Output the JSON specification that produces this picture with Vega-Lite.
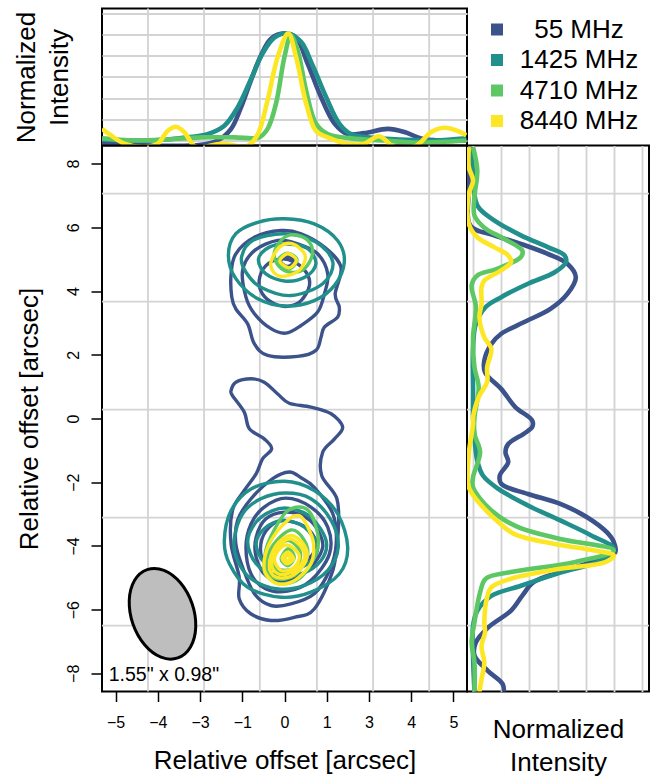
{
"$schema":"https://vega.github.io/schema/vega-lite/v6.json",
"background":"white",
"padding":{"left":12,"top":6.5,"right":5,"bottom":5},
"config":{
 "font":"Liberation Sans",
 "view":{"stroke":"black","strokeWidth":2},
 "axis":{"labelFont":"Liberation Sans","titleFont":"Liberation Sans","labelColor":"black","titleColor":"black","titleFontWeight":"normal","titleFontSize":26,"labelFontSize":16,"titleLineHeight":33,"gridColor":"#D3D3D3","gridWidth":1.8,"gridOpacity":1,"domain":false,"tickColor":"black","tickWidth":1.5},
 "legend":{"labelFont":"Liberation Sans"}
},
"datasets":{
 "gridx":[{"g":-4.04},{"g":-2.38},{"g":-0.73},{"g":0.96},{"g":2.62},{"g":4.28}],
 "gridy":[{"g":7.06},{"g":3.67},{"g":0.28},{"g":-3.11},{"g":-6.5}],
 "beam":[{"x":-3.61,"y":-6.13,"label":"1.55\" x 0.98\"","lx":-5.2,"ly":-8.04}],
 "top":[
{"band":"55 MHz","x":-5.4,"i":-0.02},{"band":"55 MHz","x":-4.45,"i":-0.04},{"band":"55 MHz","x":-3.46,"i":-0.05},{"band":"55 MHz","x":-2.47,"i":-0.04},{"band":"55 MHz","x":-1.98,"i":0},{"band":"55 MHz","x":-1.58,"i":0.11},{"band":"55 MHz","x":-1.29,"i":0.31},{"band":"55 MHz","x":-0.99,"i":0.57},{"band":"55 MHz","x":-0.7,"i":0.8},{"band":"55 MHz","x":-0.4,"i":0.96},{"band":"55 MHz","x":0,"i":1.01},{"band":"55 MHz","x":0.34,"i":0.97},{"band":"55 MHz","x":0.69,"i":0.72},{"band":"55 MHz","x":1.08,"i":0.41},{"band":"55 MHz","x":1.48,"i":0.16},{"band":"55 MHz","x":1.87,"i":0.06},{"band":"55 MHz","x":2.36,"i":0.07},{"band":"55 MHz","x":3.06,"i":0.11},{"band":"55 MHz","x":3.55,"i":0.08},{"band":"55 MHz","x":4.04,"i":0.02},{"band":"55 MHz","x":4.63,"i":0},{"band":"55 MHz","x":5.38,"i":0},
{"band":"1425 MHz","x":-5.4,"i":0.01},{"band":"1425 MHz","x":-3.95,"i":0},{"band":"1425 MHz","x":-2.87,"i":0.03},{"band":"1425 MHz","x":-2.28,"i":0.06},{"band":"1425 MHz","x":-1.78,"i":0.14},{"band":"1425 MHz","x":-1.39,"i":0.31},{"band":"1425 MHz","x":-0.99,"i":0.58},{"band":"1425 MHz","x":-0.65,"i":0.82},{"band":"1425 MHz","x":-0.3,"i":0.97},{"band":"1425 MHz","x":0.09,"i":1.01},{"band":"1425 MHz","x":0.49,"i":0.93},{"band":"1425 MHz","x":0.83,"i":0.71},{"band":"1425 MHz","x":1.23,"i":0.41},{"band":"1425 MHz","x":1.62,"i":0.16},{"band":"1425 MHz","x":1.97,"i":0.06},{"band":"1425 MHz","x":2.46,"i":0.03},{"band":"1425 MHz","x":3.45,"i":0.01},{"band":"1425 MHz","x":4.44,"i":0},{"band":"1425 MHz","x":5.38,"i":0.02},
{"band":"4710 MHz","x":-5.4,"i":0.02},{"band":"4710 MHz","x":-4.45,"i":0},{"band":"4710 MHz","x":-3.46,"i":0.01},{"band":"4710 MHz","x":-2.47,"i":0.03},{"band":"4710 MHz","x":-1.48,"i":0.03},{"band":"4710 MHz","x":-0.75,"i":0.03},{"band":"4710 MHz","x":-0.5,"i":0.11},{"band":"4710 MHz","x":-0.25,"i":0.35},{"band":"4710 MHz","x":0,"i":0.79},{"band":"4710 MHz","x":0.19,"i":0.99},{"band":"4710 MHz","x":0.39,"i":0.85},{"band":"4710 MHz","x":0.64,"i":0.47},{"band":"4710 MHz","x":0.93,"i":0.16},{"band":"4710 MHz","x":1.28,"i":0.06},{"band":"4710 MHz","x":1.97,"i":0.02},{"band":"4710 MHz","x":2.95,"i":0},{"band":"4710 MHz","x":3.94,"i":-0.02},{"band":"4710 MHz","x":5.38,"i":0},
{"band":"8440 MHz","x":-5.4,"i":0.11},{"band":"8440 MHz","x":-5.14,"i":0.05},{"band":"8440 MHz","x":-4.74,"i":-0.03},{"band":"8440 MHz","x":-4.15,"i":-0.06},{"band":"8440 MHz","x":-3.75,"i":-0.03},{"band":"8440 MHz","x":-3.46,"i":0.09},{"band":"8440 MHz","x":-3.21,"i":0.13},{"band":"8440 MHz","x":-2.97,"i":0.08},{"band":"8440 MHz","x":-2.62,"i":-0.06},{"band":"8440 MHz","x":-1.88,"i":-0.03},{"band":"8440 MHz","x":-1.09,"i":-0.05},{"band":"8440 MHz","x":-0.79,"i":0.06},{"band":"8440 MHz","x":-0.5,"i":0.38},{"band":"8440 MHz","x":-0.2,"i":0.79},{"band":"8440 MHz","x":0.11,"i":1.01},{"band":"8440 MHz","x":0.34,"i":0.79},{"band":"8440 MHz","x":0.64,"i":0.35},{"band":"8440 MHz","x":0.93,"i":0.09},{"band":"8440 MHz","x":1.28,"i":0.03},{"band":"8440 MHz","x":1.87,"i":-0.03},{"band":"8440 MHz","x":2.36,"i":-0.03},{"band":"8440 MHz","x":2.8,"i":0.04},{"band":"8440 MHz","x":3.25,"i":-0.06},{"band":"8440 MHz","x":3.89,"i":-0.05},{"band":"8440 MHz","x":4.34,"i":0.08},{"band":"8440 MHz","x":4.73,"i":0.12},{"band":"8440 MHz","x":5.13,"i":0.09},{"band":"8440 MHz","x":5.38,"i":0.05}
 ],
 "side":[
{"band":"55 MHz","i":-0.02,"y":8.52},{"band":"55 MHz","i":-0.03,"y":7.16},{"band":"55 MHz","i":-0.02,"y":6.06},{"band":"55 MHz","i":0.15,"y":5.75},{"band":"55 MHz","i":0.34,"y":5.48},{"band":"55 MHz","i":0.53,"y":5.17},{"band":"55 MHz","i":0.67,"y":4.86},{"band":"55 MHz","i":0.73,"y":4.44},{"band":"55 MHz","i":0.67,"y":3.91},{"band":"55 MHz","i":0.55,"y":3.44},{"band":"55 MHz","i":0.36,"y":3.02},{"band":"55 MHz","i":0.2,"y":2.66},{"band":"55 MHz","i":0.13,"y":2.34},{"band":"55 MHz","i":0.08,"y":1.82},{"band":"55 MHz","i":0.085,"y":1.45},{"band":"55 MHz","i":0.2,"y":0.93},{"band":"55 MHz","i":0.3,"y":0.36},{"band":"55 MHz","i":0.42,"y":-0.06},{"band":"55 MHz","i":0.42,"y":-0.27},{"band":"55 MHz","i":0.36,"y":-0.48},{"band":"55 MHz","i":0.25,"y":-0.8},{"band":"55 MHz","i":0.23,"y":-1.06},{"band":"55 MHz","i":0.25,"y":-1.37},{"band":"55 MHz","i":0.19,"y":-1.79},{"band":"55 MHz","i":0.2,"y":-2.05},{"band":"55 MHz","i":0.39,"y":-2.37},{"band":"55 MHz","i":0.62,"y":-2.68},{"band":"55 MHz","i":0.81,"y":-3.1},{"band":"55 MHz","i":0.95,"y":-3.57},{"band":"55 MHz","i":1,"y":-3.88},{"band":"55 MHz","i":1.01,"y":-4.2},{"band":"55 MHz","i":0.91,"y":-4.41},{"band":"55 MHz","i":0.62,"y":-4.82},{"band":"55 MHz","i":0.43,"y":-5.14},{"band":"55 MHz","i":0.35,"y":-5.56},{"band":"55 MHz","i":0.27,"y":-6.03},{"band":"55 MHz","i":0.11,"y":-6.55},{"band":"55 MHz","i":0.02,"y":-7.03},{"band":"55 MHz","i":0.01,"y":-7.44},{"band":"55 MHz","i":0.105,"y":-7.92},{"band":"55 MHz","i":0.21,"y":-8.33},{"band":"55 MHz","i":0.22,"y":-8.59},
{"band":"1425 MHz","i":-0.01,"y":8.52},{"band":"1425 MHz","i":0,"y":7.68},{"band":"1425 MHz","i":0.03,"y":6.69},{"band":"1425 MHz","i":0.15,"y":6.22},{"band":"1425 MHz","i":0.34,"y":5.75},{"band":"1425 MHz","i":0.53,"y":5.38},{"band":"1425 MHz","i":0.65,"y":5.12},{"band":"1425 MHz","i":0.66,"y":4.91},{"band":"1425 MHz","i":0.58,"y":4.59},{"band":"1425 MHz","i":0.39,"y":4.23},{"band":"1425 MHz","i":0.2,"y":3.81},{"band":"1425 MHz","i":0.09,"y":3.5},{"band":"1425 MHz","i":0.02,"y":2.97},{"band":"1425 MHz","i":0,"y":2.24},{"band":"1425 MHz","i":0,"y":0.88},{"band":"1425 MHz","i":0,"y":0.04},{"band":"1425 MHz","i":0.01,"y":-0.59},{"band":"1425 MHz","i":0.03,"y":-1.32},{"band":"1425 MHz","i":0.07,"y":-1.79},{"band":"1425 MHz","i":0.18,"y":-2.21},{"band":"1425 MHz","i":0.39,"y":-2.73},{"band":"1425 MHz","i":0.62,"y":-3.2},{"band":"1425 MHz","i":0.84,"y":-3.67},{"band":"1425 MHz","i":1,"y":-4.09},{"band":"1425 MHz","i":0.93,"y":-4.42},{"band":"1425 MHz","i":0.62,"y":-4.84},{"band":"1425 MHz","i":0.34,"y":-5.25},{"band":"1425 MHz","i":0.13,"y":-5.57},{"band":"1425 MHz","i":0.03,"y":-6.04},{"band":"1425 MHz","i":0,"y":-6.51},{"band":"1425 MHz","i":0,"y":-7.45},{"band":"1425 MHz","i":0.01,"y":-8.59},
{"band":"4710 MHz","i":0,"y":8.52},{"band":"4710 MHz","i":0.03,"y":7.79},{"band":"4710 MHz","i":0.01,"y":6.95},{"band":"4710 MHz","i":0.01,"y":6.37},{"band":"4710 MHz","i":0.08,"y":5.99},{"band":"4710 MHz","i":0.22,"y":5.64},{"band":"4710 MHz","i":0.35,"y":5.27},{"band":"4710 MHz","i":0.34,"y":5.07},{"band":"4710 MHz","i":0.17,"y":4.7},{"band":"4710 MHz","i":0.03,"y":4.49},{"band":"4710 MHz","i":-0.01,"y":4.18},{"band":"4710 MHz","i":0.02,"y":3.5},{"band":"4710 MHz","i":0,"y":2.55},{"band":"4710 MHz","i":0.01,"y":1.61},{"band":"4710 MHz","i":0.04,"y":0.98},{"band":"4710 MHz","i":0.01,"y":0.04},{"band":"4710 MHz","i":0.01,"y":-0.48},{"band":"4710 MHz","i":0.05,"y":-1.06},{"band":"4710 MHz","i":0,"y":-1.84},{"band":"4710 MHz","i":0,"y":-2.16},{"band":"4710 MHz","i":0.13,"y":-2.89},{"band":"4710 MHz","i":0.32,"y":-3.41},{"band":"4710 MHz","i":0.62,"y":-3.78},{"band":"4710 MHz","i":1,"y":-4.14},{"band":"4710 MHz","i":0.72,"y":-4.51},{"band":"4710 MHz","i":0.27,"y":-4.82},{"band":"4710 MHz","i":0.09,"y":-5.03},{"band":"4710 MHz","i":0.05,"y":-5.46},{"band":"4710 MHz","i":0.01,"y":-6.4},{"band":"4710 MHz","i":-0.01,"y":-7.03},{"band":"4710 MHz","i":0.01,"y":-7.66},{"band":"4710 MHz","i":0.01,"y":-8.59},
{"band":"8440 MHz","i":-0.03,"y":8.52},{"band":"8440 MHz","i":-0.03,"y":7.89},{"band":"8440 MHz","i":0,"y":7.47},{"band":"8440 MHz","i":-0.03,"y":7.05},{"band":"8440 MHz","i":-0.03,"y":6.11},{"band":"8440 MHz","i":0.03,"y":5.69},{"band":"8440 MHz","i":0.15,"y":5.38},{"band":"8440 MHz","i":0.25,"y":5.12},{"band":"8440 MHz","i":0.27,"y":4.91},{"band":"8440 MHz","i":0.2,"y":4.65},{"band":"8440 MHz","i":0.08,"y":4.33},{"band":"8440 MHz","i":0.06,"y":4.12},{"band":"8440 MHz","i":0.06,"y":3.6},{"band":"8440 MHz","i":0.045,"y":3.18},{"band":"8440 MHz","i":0.08,"y":2.55},{"band":"8440 MHz","i":0.13,"y":2.19},{"band":"8440 MHz","i":0.1,"y":1.61},{"band":"8440 MHz","i":0.1,"y":1.14},{"band":"8440 MHz","i":0.045,"y":0.72},{"band":"8440 MHz","i":0,"y":0.04},{"band":"8440 MHz","i":0,"y":-0.17},{"band":"8440 MHz","i":-0.03,"y":-1.11},{"band":"8440 MHz","i":-0.03,"y":-2.16},{"band":"8440 MHz","i":0.06,"y":-2.73},{"band":"8440 MHz","i":0.18,"y":-3.25},{"band":"8440 MHz","i":0.29,"y":-3.62},{"band":"8440 MHz","i":0.58,"y":-3.94},{"band":"8440 MHz","i":0.86,"y":-4.14},{"band":"8440 MHz","i":1,"y":-4.3},{"band":"8440 MHz","i":0.94,"y":-4.51},{"band":"8440 MHz","i":0.62,"y":-4.72},{"band":"8440 MHz","i":0.27,"y":-5.03},{"band":"8440 MHz","i":0.13,"y":-5.3},{"band":"8440 MHz","i":0.1,"y":-5.61},{"band":"8440 MHz","i":0.08,"y":-6.4},{"band":"8440 MHz","i":0.085,"y":-6.72},{"band":"8440 MHz","i":0.06,"y":-7.14},{"band":"8440 MHz","i":0.08,"y":-7.66},{"band":"8440 MHz","i":0.06,"y":-8.18},{"band":"8440 MHz","i":0.045,"y":-8.59}
 ],
 "contours":[
{"band":"55 MHz","ring":"B1","x":-1.58,"y":4.54},{"band":"55 MHz","ring":"B1","x":-1.56,"y":3.81},{"band":"55 MHz","ring":"B1","x":-1.44,"y":3.44},{"band":"55 MHz","ring":"B1","x":-1.09,"y":2.97},{"band":"55 MHz","ring":"B1","x":-0.89,"y":2.34},{"band":"55 MHz","ring":"B1","x":-0.5,"y":1.98},{"band":"55 MHz","ring":"B1","x":0.39,"y":1.95},{"band":"55 MHz","ring":"B1","x":0.93,"y":2.14},{"band":"55 MHz","ring":"B1","x":1.08,"y":2.55},{"band":"55 MHz","ring":"B1","x":1.18,"y":2.87},{"band":"55 MHz","ring":"B1","x":1.57,"y":3.18},{"band":"55 MHz","ring":"B1","x":1.62,"y":3.5},{"band":"55 MHz","ring":"B1","x":1.5,"y":3.91},{"band":"55 MHz","ring":"B1","x":1.67,"y":4.75},{"band":"55 MHz","ring":"B1","x":1.18,"y":5.38},{"band":"55 MHz","ring":"B1","x":0.49,"y":5.8},{"band":"55 MHz","ring":"B1","x":-0.1,"y":5.9},{"band":"55 MHz","ring":"B1","x":-0.89,"y":5.69},{"band":"55 MHz","ring":"B1","x":-1.44,"y":5.17},
{"band":"55 MHz","ring":"B2","x":-1.24,"y":4.65},{"band":"55 MHz","ring":"B2","x":-1.14,"y":3.81},{"band":"55 MHz","ring":"B2","x":-0.89,"y":3.29},{"band":"55 MHz","ring":"B2","x":-0.4,"y":2.82},{"band":"55 MHz","ring":"B2","x":0.04,"y":2.68},{"band":"55 MHz","ring":"B2","x":0.49,"y":2.92},{"band":"55 MHz","ring":"B2","x":0.98,"y":3.34},{"band":"55 MHz","ring":"B2","x":1.18,"y":3.91},{"band":"55 MHz","ring":"B2","x":1.28,"y":4.54},{"band":"55 MHz","ring":"B2","x":0.98,"y":5.17},{"band":"55 MHz","ring":"B2","x":0.39,"y":5.48},{"band":"55 MHz","ring":"B2","x":-0.2,"y":5.59},{"band":"55 MHz","ring":"B2","x":-0.89,"y":5.27},
{"band":"55 MHz","ring":"B3","x":-0.75,"y":4.33},{"band":"55 MHz","ring":"B3","x":-0.65,"y":3.91},{"band":"55 MHz","ring":"B3","x":-0.3,"y":3.6},{"band":"55 MHz","ring":"B3","x":0.09,"y":3.52},{"band":"55 MHz","ring":"B3","x":0.49,"y":3.7},{"band":"55 MHz","ring":"B3","x":0.74,"y":4.18},{"band":"55 MHz","ring":"B3","x":0.64,"y":4.59},{"band":"55 MHz","ring":"B3","x":0.29,"y":4.91},{"band":"55 MHz","ring":"B3","x":-0.1,"y":5.01},{"band":"55 MHz","ring":"B3","x":-0.55,"y":4.8},
{"band":"55 MHz","ring":"B4","x":-0.12,"y":4.94},{"band":"55 MHz","ring":"B4","x":0.09,"y":5.09},{"band":"55 MHz","ring":"B4","x":0.29,"y":4.94},{"band":"55 MHz","ring":"B4","x":0.09,"y":4.77},
{"band":"55 MHz","ring":"B5","x":-1.58,"y":0.88},{"band":"55 MHz","ring":"B5","x":-1.44,"y":1.14},{"band":"55 MHz","ring":"B5","x":-0.99,"y":1.25},{"band":"55 MHz","ring":"B5","x":-0.6,"y":1.14},{"band":"55 MHz","ring":"B5","x":-0.2,"y":0.77},{"band":"55 MHz","ring":"B5","x":0.14,"y":0.48},{"band":"55 MHz","ring":"B5","x":0.78,"y":0.36},{"band":"55 MHz","ring":"B5","x":1.38,"y":0.15},{"band":"55 MHz","ring":"B5","x":1.72,"y":-0.27},{"band":"55 MHz","ring":"B5","x":1.48,"y":-0.64},{"band":"55 MHz","ring":"B5","x":1.13,"y":-1.06},{"band":"55 MHz","ring":"B5","x":1.1,"y":-1.79},{"band":"55 MHz","ring":"B5","x":1.55,"y":-2.52},{"band":"55 MHz","ring":"B5","x":1.59,"y":-3.52},{"band":"55 MHz","ring":"B5","x":1.43,"y":-4.77},{"band":"55 MHz","ring":"B5","x":0.88,"y":-5.98},{"band":"55 MHz","ring":"B5","x":0.29,"y":-6.24},{"band":"55 MHz","ring":"B5","x":-0.4,"y":-6.34},{"band":"55 MHz","ring":"B5","x":-1,"y":-6.13},{"band":"55 MHz","ring":"B5","x":-1.34,"y":-5.66},{"band":"55 MHz","ring":"B5","x":-1.34,"y":-4.98},{"band":"55 MHz","ring":"B5","x":-1.58,"y":-3.94},{"band":"55 MHz","ring":"B5","x":-1.54,"y":-2.89},{"band":"55 MHz","ring":"B5","x":-1.19,"y":-2.26},{"band":"55 MHz","ring":"B5","x":-0.84,"y":-1.74},{"band":"55 MHz","ring":"B5","x":-0.65,"y":-1.27},{"band":"55 MHz","ring":"B5","x":-0.38,"y":-0.95},{"band":"55 MHz","ring":"B5","x":-0.6,"y":-0.64},{"band":"55 MHz","ring":"B5","x":-1.04,"y":-0.32},{"band":"55 MHz","ring":"B5","x":-1.19,"y":0.2},{"band":"55 MHz","ring":"B5","x":-1.54,"y":0.72},
{"band":"55 MHz","ring":"B6","x":0.14,"y":-1.68},{"band":"55 MHz","ring":"B6","x":-0.35,"y":-1.89},{"band":"55 MHz","ring":"B6","x":-0.99,"y":-2.52},{"band":"55 MHz","ring":"B6","x":-1.39,"y":-3.2},{"band":"55 MHz","ring":"B6","x":-1.44,"y":-3.94},{"band":"55 MHz","ring":"B6","x":-1.24,"y":-4.67},{"band":"55 MHz","ring":"B6","x":-0.89,"y":-5.5},{"band":"55 MHz","ring":"B6","x":-0.4,"y":-5.87},{"band":"55 MHz","ring":"B6","x":0.19,"y":-5.82},{"band":"55 MHz","ring":"B6","x":0.88,"y":-5.5},{"band":"55 MHz","ring":"B6","x":1.33,"y":-4.77},{"band":"55 MHz","ring":"B6","x":1.53,"y":-3.94},{"band":"55 MHz","ring":"B6","x":1.43,"y":-2.99},{"band":"55 MHz","ring":"B6","x":0.88,"y":-2.16},{"band":"55 MHz","ring":"B6","x":0.49,"y":-1.86},
{"band":"55 MHz","ring":"B7","x":0.04,"y":-2.5},{"band":"55 MHz","ring":"B7","x":-0.6,"y":-2.78},{"band":"55 MHz","ring":"B7","x":-0.99,"y":-3.31},{"band":"55 MHz","ring":"B7","x":-1.14,"y":-4.04},{"band":"55 MHz","ring":"B7","x":-0.99,"y":-4.88},{"band":"55 MHz","ring":"B7","x":-0.55,"y":-5.35},{"band":"55 MHz","ring":"B7","x":0.09,"y":-5.42},{"band":"55 MHz","ring":"B7","x":0.78,"y":-5.09},{"band":"55 MHz","ring":"B7","x":1.33,"y":-4.25},{"band":"55 MHz","ring":"B7","x":1.28,"y":-3.41},{"band":"55 MHz","ring":"B7","x":0.78,"y":-2.78},
{"band":"55 MHz","ring":"B8","x":0,"y":-2.94},{"band":"55 MHz","ring":"B8","x":-0.55,"y":-3.15},{"band":"55 MHz","ring":"B8","x":-0.84,"y":-3.73},{"band":"55 MHz","ring":"B8","x":-0.84,"y":-4.35},{"band":"55 MHz","ring":"B8","x":-0.55,"y":-4.93},{"band":"55 MHz","ring":"B8","x":0,"y":-5.09},{"band":"55 MHz","ring":"B8","x":0.69,"y":-4.77},{"band":"55 MHz","ring":"B8","x":1.13,"y":-4.04},{"band":"55 MHz","ring":"B8","x":0.93,"y":-3.41},{"band":"55 MHz","ring":"B8","x":0.54,"y":-3.05},
{"band":"55 MHz","ring":"B9","x":0,"y":-3.2},{"band":"55 MHz","ring":"B9","x":-0.45,"y":-3.41},{"band":"55 MHz","ring":"B9","x":-0.7,"y":-3.94},{"band":"55 MHz","ring":"B9","x":-0.6,"y":-4.51},{"band":"55 MHz","ring":"B9","x":-0.1,"y":-4.82},{"band":"55 MHz","ring":"B9","x":0.49,"y":-4.62},{"band":"55 MHz","ring":"B9","x":0.93,"y":-4.04},{"band":"55 MHz","ring":"B9","x":0.69,"y":-3.46},
{"band":"1425 MHz","ring":"T1","x":-1.66,"y":5.12},{"band":"1425 MHz","ring":"T1","x":-1.44,"y":5.8},{"band":"1425 MHz","ring":"T1","x":-0.79,"y":6.16},{"band":"1425 MHz","ring":"T1","x":0,"y":6.27},{"band":"1425 MHz","ring":"T1","x":0.88,"y":6.11},{"band":"1425 MHz","ring":"T1","x":1.57,"y":5.59},{"band":"1425 MHz","ring":"T1","x":1.77,"y":4.91},{"band":"1425 MHz","ring":"T1","x":1.48,"y":4.18},{"band":"1425 MHz","ring":"T1","x":0.88,"y":3.7},{"band":"1425 MHz","ring":"T1","x":0.04,"y":3.53},{"band":"1425 MHz","ring":"T1","x":-0.79,"y":3.76},{"band":"1425 MHz","ring":"T1","x":-1.44,"y":4.39},
{"band":"1425 MHz","ring":"T2","x":-1.27,"y":5.07},{"band":"1425 MHz","ring":"T2","x":-0.94,"y":5.59},{"band":"1425 MHz","ring":"T2","x":0,"y":5.8},{"band":"1425 MHz","ring":"T2","x":0.93,"y":5.54},{"band":"1425 MHz","ring":"T2","x":1.43,"y":4.91},{"band":"1425 MHz","ring":"T2","x":1.13,"y":4.23},{"band":"1425 MHz","ring":"T2","x":0.19,"y":3.86},{"band":"1425 MHz","ring":"T2","x":-0.7,"y":4.12},{"band":"1425 MHz","ring":"T2","x":-1.14,"y":4.59},
{"band":"1425 MHz","ring":"T3","x":-0.77,"y":5.01},{"band":"1425 MHz","ring":"T3","x":-0.45,"y":5.38},{"band":"1425 MHz","ring":"T3","x":0.09,"y":5.48},{"band":"1425 MHz","ring":"T3","x":0.69,"y":5.33},{"band":"1425 MHz","ring":"T3","x":0.93,"y":4.86},{"band":"1425 MHz","ring":"T3","x":0.64,"y":4.46},{"band":"1425 MHz","ring":"T3","x":0.04,"y":4.31},{"band":"1425 MHz","ring":"T3","x":-0.55,"y":4.54},
{"band":"1425 MHz","ring":"T4","x":-1.78,"y":-3.83},{"band":"1425 MHz","ring":"T4","x":-1.58,"y":-2.89},{"band":"1425 MHz","ring":"T4","x":-0.99,"y":-2.21},{"band":"1425 MHz","ring":"T4","x":0,"y":-1.97},{"band":"1425 MHz","ring":"T4","x":0.88,"y":-2.26},{"band":"1425 MHz","ring":"T4","x":1.57,"y":-2.99},{"band":"1425 MHz","ring":"T4","x":1.87,"y":-4.04},{"band":"1425 MHz","ring":"T4","x":1.62,"y":-4.88},{"band":"1425 MHz","ring":"T4","x":0.78,"y":-5.45},{"band":"1425 MHz","ring":"T4","x":-0.1,"y":-5.61},{"band":"1425 MHz","ring":"T4","x":-1.09,"y":-5.3},{"band":"1425 MHz","ring":"T4","x":-1.63,"y":-4.56},
{"band":"1425 MHz","ring":"T5","x":-1.49,"y":-3.83},{"band":"1425 MHz","ring":"T5","x":-1.24,"y":-2.99},{"band":"1425 MHz","ring":"T5","x":-0.7,"y":-2.52},{"band":"1425 MHz","ring":"T5","x":0.04,"y":-2.34},{"band":"1425 MHz","ring":"T5","x":0.78,"y":-2.52},{"band":"1425 MHz","ring":"T5","x":1.38,"y":-3.2},{"band":"1425 MHz","ring":"T5","x":1.59,"y":-4.04},{"band":"1425 MHz","ring":"T5","x":1.28,"y":-4.77},{"band":"1425 MHz","ring":"T5","x":0.59,"y":-5.24},{"band":"1425 MHz","ring":"T5","x":-0.2,"y":-5.35},{"band":"1425 MHz","ring":"T5","x":-0.99,"y":-5.03},{"band":"1425 MHz","ring":"T5","x":-1.39,"y":-4.46},
{"band":"1425 MHz","ring":"T6","x":-1.09,"y":-3.88},{"band":"1425 MHz","ring":"T6","x":-0.84,"y":-3.25},{"band":"1425 MHz","ring":"T6","x":-0.35,"y":-2.89},{"band":"1425 MHz","ring":"T6","x":0.14,"y":-2.82},{"band":"1425 MHz","ring":"T6","x":0.78,"y":-3.1},{"band":"1425 MHz","ring":"T6","x":1.23,"y":-3.83},{"band":"1425 MHz","ring":"T6","x":1.08,"y":-4.46},{"band":"1425 MHz","ring":"T6","x":0.49,"y":-4.88},{"band":"1425 MHz","ring":"T6","x":-0.3,"y":-4.9},{"band":"1425 MHz","ring":"T6","x":-0.84,"y":-4.56},
{"band":"1425 MHz","ring":"T7","x":-0.84,"y":-3.94},{"band":"1425 MHz","ring":"T7","x":-0.6,"y":-3.46},{"band":"1425 MHz","ring":"T7","x":-0.05,"y":-3.2},{"band":"1425 MHz","ring":"T7","x":0.59,"y":-3.41},{"band":"1425 MHz","ring":"T7","x":0.98,"y":-4.04},{"band":"1425 MHz","ring":"T7","x":0.69,"y":-4.56},{"band":"1425 MHz","ring":"T7","x":0,"y":-4.77},{"band":"1425 MHz","ring":"T7","x":-0.6,"y":-4.51},
{"band":"4710 MHz","ring":"G1","x":-0.3,"y":5.22},{"band":"4710 MHz","ring":"G1","x":-0.05,"y":5.64},{"band":"4710 MHz","ring":"G1","x":0.29,"y":5.77},{"band":"4710 MHz","ring":"G1","x":0.69,"y":5.59},{"band":"4710 MHz","ring":"G1","x":0.83,"y":5.17},{"band":"4710 MHz","ring":"G1","x":0.59,"y":4.7},{"band":"4710 MHz","ring":"G1","x":0.19,"y":4.59},{"band":"4710 MHz","ring":"G1","x":-0.18,"y":4.8},
{"band":"4710 MHz","ring":"G2","x":-0.18,"y":4.96},{"band":"4710 MHz","ring":"G2","x":0.09,"y":5.19},{"band":"4710 MHz","ring":"G2","x":0.37,"y":4.98},{"band":"4710 MHz","ring":"G2","x":0.14,"y":4.7},
{"band":"4710 MHz","ring":"G3","x":0.44,"y":-2.78},{"band":"4710 MHz","ring":"G3","x":0.78,"y":-2.99},{"band":"4710 MHz","ring":"G3","x":1,"y":-3.73},{"band":"4710 MHz","ring":"G3","x":0.93,"y":-4.25},{"band":"4710 MHz","ring":"G3","x":0.49,"y":-4.98},{"band":"4710 MHz","ring":"G3","x":-0.1,"y":-5.19},{"band":"4710 MHz","ring":"G3","x":-0.5,"y":-4.98},{"band":"4710 MHz","ring":"G3","x":-0.6,"y":-4.67},{"band":"4710 MHz","ring":"G3","x":-0.5,"y":-3.94},{"band":"4710 MHz","ring":"G3","x":0,"y":-2.99},
{"band":"4710 MHz","ring":"G4","x":0.19,"y":-3.5},{"band":"4710 MHz","ring":"G4","x":0.59,"y":-3.83},{"band":"4710 MHz","ring":"G4","x":0.67,"y":-4.35},{"band":"4710 MHz","ring":"G4","x":0.29,"y":-4.93},{"band":"4710 MHz","ring":"G4","x":-0.25,"y":-5.03},{"band":"4710 MHz","ring":"G4","x":-0.55,"y":-4.67},{"band":"4710 MHz","ring":"G4","x":-0.35,"y":-3.99},
{"band":"4710 MHz","ring":"G5","x":0.14,"y":-3.83},{"band":"4710 MHz","ring":"G5","x":0.47,"y":-4.2},{"band":"4710 MHz","ring":"G5","x":0.34,"y":-4.67},{"band":"4710 MHz","ring":"G5","x":-0.1,"y":-4.82},{"band":"4710 MHz","ring":"G5","x":-0.35,"y":-4.46},{"band":"4710 MHz","ring":"G5","x":-0.2,"y":-4.04},
{"band":"4710 MHz","ring":"G6","x":0.11,"y":-4.09},{"band":"4710 MHz","ring":"G6","x":0.29,"y":-4.35},{"band":"4710 MHz","ring":"G6","x":0.11,"y":-4.62},{"band":"4710 MHz","ring":"G6","x":-0.1,"y":-4.41},
{"band":"8440 MHz","ring":"Y1","x":-0.4,"y":4.91},{"band":"8440 MHz","ring":"Y1","x":-0.15,"y":5.38},{"band":"8440 MHz","ring":"Y1","x":0.24,"y":5.48},{"band":"8440 MHz","ring":"Y1","x":0.61,"y":5.12},{"band":"8440 MHz","ring":"Y1","x":0.44,"y":4.65},{"band":"8440 MHz","ring":"Y1","x":-0.05,"y":4.46},{"band":"8440 MHz","ring":"Y1","x":-0.32,"y":4.59},
{"band":"8440 MHz","ring":"Y2","x":-0.14,"y":4.94},{"band":"8440 MHz","ring":"Y2","x":0.09,"y":5.17},{"band":"8440 MHz","ring":"Y2","x":0.35,"y":4.98},{"band":"8440 MHz","ring":"Y2","x":0.14,"y":4.73},
{"band":"8440 MHz","ring":"Y3","x":0.44,"y":-3.05},{"band":"8440 MHz","ring":"Y3","x":0.69,"y":-3.41},{"band":"8440 MHz","ring":"Y3","x":0.86,"y":-3.94},{"band":"8440 MHz","ring":"Y3","x":0.78,"y":-4.56},{"band":"8440 MHz","ring":"Y3","x":0.29,"y":-5.09},{"band":"8440 MHz","ring":"Y3","x":-0.2,"y":-5.19},{"band":"8440 MHz","ring":"Y3","x":-0.55,"y":-4.88},{"band":"8440 MHz","ring":"Y3","x":-0.6,"y":-4.46},{"band":"8440 MHz","ring":"Y3","x":-0.4,"y":-3.83},{"band":"8440 MHz","ring":"Y3","x":0.09,"y":-3.2},
{"band":"8440 MHz","ring":"Y4","x":0.19,"y":-3.67},{"band":"8440 MHz","ring":"Y4","x":0.59,"y":-3.99},{"band":"8440 MHz","ring":"Y4","x":0.64,"y":-4.46},{"band":"8440 MHz","ring":"Y4","x":0.24,"y":-4.93},{"band":"8440 MHz","ring":"Y4","x":-0.25,"y":-4.98},{"band":"8440 MHz","ring":"Y4","x":-0.45,"y":-4.62},{"band":"8440 MHz","ring":"Y4","x":-0.25,"y":-3.99},
{"band":"8440 MHz","ring":"Y8","x":0.17,"y":-3.78},{"band":"8440 MHz","ring":"Y8","x":0.54,"y":-4.09},{"band":"8440 MHz","ring":"Y8","x":0.57,"y":-4.46},{"band":"8440 MHz","ring":"Y8","x":0.21,"y":-4.82},{"band":"8440 MHz","ring":"Y8","x":-0.18,"y":-4.88},{"band":"8440 MHz","ring":"Y8","x":-0.38,"y":-4.57},{"band":"8440 MHz","ring":"Y8","x":-0.18,"y":-4.04},
{"band":"8440 MHz","ring":"Y5","x":0.14,"y":-3.99},{"band":"8440 MHz","ring":"Y5","x":0.44,"y":-4.3},{"band":"8440 MHz","ring":"Y5","x":0.29,"y":-4.67},{"band":"8440 MHz","ring":"Y5","x":-0.1,"y":-4.77},{"band":"8440 MHz","ring":"Y5","x":-0.3,"y":-4.41},{"band":"8440 MHz","ring":"Y5","x":-0.1,"y":-4.04},
{"band":"8440 MHz","ring":"Y6","x":0.11,"y":-4.2},{"band":"8440 MHz","ring":"Y6","x":0.27,"y":-4.41},{"band":"8440 MHz","ring":"Y6","x":0.07,"y":-4.56},{"band":"8440 MHz","ring":"Y6","x":-0.07,"y":-4.37},
{"band":"8440 MHz","ring":"Y7","x":0.11,"y":-4.3},{"band":"8440 MHz","ring":"Y7","x":0.17,"y":-4.41},{"band":"8440 MHz","ring":"Y7","x":0.07,"y":-4.48},{"band":"8440 MHz","ring":"Y7","x":0.02,"y":-4.37}
 ]
},
"vconcat":[
 {
  "width":365,"height":137,
  "layer":[
   {"data":{"name":"gridx"},"mark":{"type":"rule","color":"#D3D3D3","strokeWidth":1.8},
    "encoding":{"x":{"field":"g","type":"quantitative","scale":{"domain":[-5.4,5.4],"nice":false,"zero":false},"axis":null}}},
   {"data":{"name":"top"},"mark":{"type":"line","strokeWidth":4.6,"clip":true,"interpolate":"catmull-rom"},
    "encoding":{
     "x":{"field":"x","type":"quantitative","scale":{"domain":[-5.4,5.4],"nice":false,"zero":false},"axis":null},
     "y":{"field":"i","type":"quantitative","scale":{"domain":[-0.047,1.245],"nice":false,"zero":false},
      "axis":{"title":["Normalized","Intensity"],"values":[0,0.2,0.4,0.6,0.8,1,1.2],"grid":true,"labels":false,"ticks":false,"titlePadding":30}},
     "color":{"field":"band","type":"nominal","scale":{"domain":["55 MHz","1425 MHz","4710 MHz","8440 MHz"],"range":["#3B528B","#21908C","#5DC863","#FDE725"]},
      "legend":{"title":null,"orient":"none","legendX":382,"legendY":8,"symbolType":"square","symbolSize":144,"symbolStrokeWidth":0,"labelFontSize":26,"labelColor":"black","labelAlign":"center","labelOffset":69,"rowPadding":4.5,"labelLimit":200,
       "encode":{"symbols":{"update":{"fill":{"scale":"color","field":"value"},"opacity":{"value":1}}}}}},
     "order":{"value":null}
    }}
  ]
 },
 {
  "hconcat":[
   {
    "width":365,"height":546,
    "layer":[
     {"data":{"name":"gridx"},"mark":{"type":"rule","color":"#D3D3D3","strokeWidth":1.8},
      "encoding":{"x":{"field":"g","type":"quantitative","scale":{"domain":[-5.4,5.4],"nice":false,"zero":false},
       "axis":{"title":"Relative offset [arcsec]","values":[-5,-3.75,-2.5,-1.25,0,1.25,2.5,3.75,5],"format":".0f","tickSize":10,"labelPadding":13,"titlePadding":17,"grid":false}}}},
     {"data":{"name":"gridy"},"mark":{"type":"rule","color":"#D3D3D3","strokeWidth":1.8},
      "encoding":{"y":{"field":"g","type":"quantitative","scale":{"domain":[-8.57,8.57],"nice":false,"zero":false},
       "axis":{"title":"Relative offset [arcsec]","values":[-8,-6,-4,-2,0,2,4,6,8],"tickSize":11,"labelAngle":-90,"labelAlign":"center","labelBaseline":"bottom","labelPadding":10,"titlePadding":23,"grid":false}}}},
     {"data":{"name":"contours"},"mark":{"type":"line","strokeWidth":3.4,"clip":true,"interpolate":"cardinal-closed"},
      "encoding":{
       "x":{"field":"x","type":"quantitative"},
       "y":{"field":"y","type":"quantitative"},
       "color":{"field":"band","type":"nominal","legend":null},
       "detail":{"field":"ring"},
       "order":{"value":null}
      }},
     {"data":{"name":"beam"},"mark":{"type":"point","filled":true,"fill":"#BEBEBE","stroke":"black","strokeWidth":3,"opacity":1,"size":8722,"shape":"M0.327 0.945 A1 0.665 70.9 1 1 -0.327 -0.945 A1 0.665 70.9 1 1 0.327 0.945 Z"},
      "encoding":{"x":{"field":"x","type":"quantitative"},"y":{"field":"y","type":"quantitative"}}},
     {"data":{"name":"beam"},"mark":{"type":"text","align":"left","baseline":"middle","fontSize":19.5,"color":"black"},
      "encoding":{"x":{"field":"lx","type":"quantitative"},"y":{"field":"ly","type":"quantitative"},"text":{"field":"label"}}}
    ]
   },
   {
    "width":182,"height":546,
    "layer":[
     {"data":{"name":"gridy"},"mark":{"type":"rule","color":"#D3D3D3","strokeWidth":1.8},
      "encoding":{"y":{"field":"g","type":"quantitative","scale":{"domain":[-8.57,8.57],"nice":false,"zero":false},"axis":null}}},
     {"data":{"name":"side"},"mark":{"type":"line","strokeWidth":4.6,"clip":true,"interpolate":"catmull-rom"},
      "encoding":{
       "x":{"field":"i","type":"quantitative","scale":{"domain":[-0.043,1.25],"nice":false,"zero":false},
        "axis":{"title":["Normalized","Intensity"],"values":[0,0.2,0.4,0.6,0.8,1,1.2],"grid":true,"labels":false,"ticks":false,"titlePadding":25}},
       "y":{"field":"y","type":"quantitative","scale":{"domain":[-8.57,8.57],"nice":false,"zero":false},"axis":null},
       "color":{"field":"band","type":"nominal","legend":null},
       "order":{"value":null}
      }}
    ]
   }
  ],
  "spacing":0,
  "bounds":"flush"
 }
],
"spacing":0,
"bounds":"flush",
"resolve":{"scale":{"color":"shared"}}
}
